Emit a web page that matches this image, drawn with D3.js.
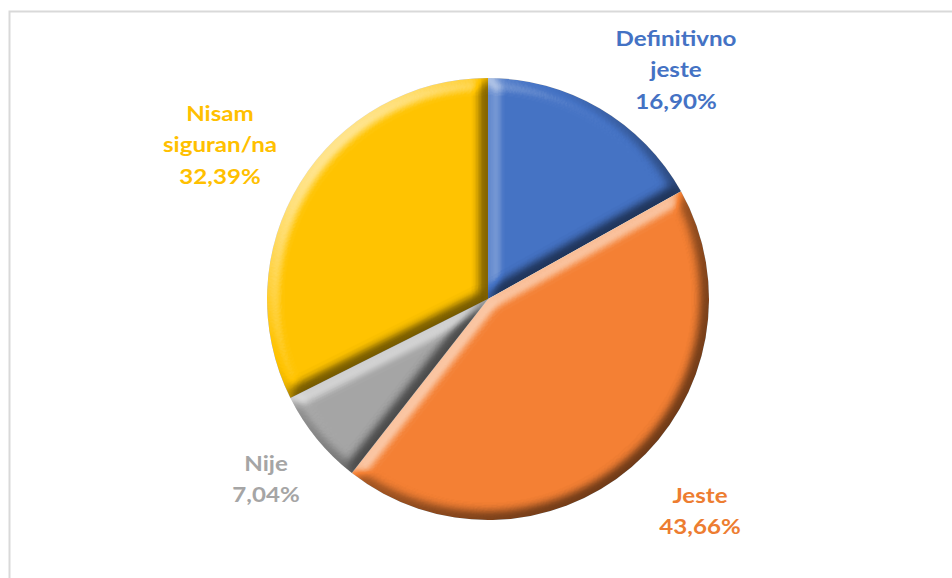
<!DOCTYPE html>
<html>
<head>
<meta charset="utf-8">
<script src="https://cdn.jsdelivr.net/npm/d3@7"></script>
<style>
  html, body { margin: 0; padding: 0; background: #fff; }
  svg { display: block; }
  .lbl { font-family: Lato, "Open Sans", sans-serif; font-weight: 700; }
</style>
</head>
<body>
<svg id="chart" width="952" height="578"></svg>
<script>
// Survey answers, clockwise from 12 o'clock
const categories = ["Definitivno jeste", "Jeste", "Nije", "Nisam siguran/na"];
const shares = [16.90, 43.66, 7.04, 32.39];
const sliceColors = ["#4472C4", "#F47F33", "#A5A5A5", "#FFC300"];
const labelColors = ["#4472C4", "#ED7D31", "#A5A5A5", "#FFC000"];
// label text split into lines (name lines, value line added below)
const labelLines = [["Definitivno", "jeste"], ["Jeste"], ["Nije"], ["Nisam", "siguran/na"]];
// anchor (centre x, first baseline y) of each label block
const labelAnchors = [[676, 46], [700, 503], [266, 471], [220, 121]];

const W = 952, H = 578;
const cx = 488, cy = 299, R = 221;
const lineGap = 31.5;

const svg = d3.select("#chart");

// chart frame
svg.append("rect")
  .attr("x", 9.5).attr("y", 11.5)
  .attr("width", W + 10).attr("height", H + 10)
  .attr("fill", "#fff")
  .attr("stroke", "#d9d9d9").attr("stroke-width", 2);

// bevel (rounded edge lit from the top-left) for each slice
const defs = svg.append("defs");
const f = defs.append("filter").attr("id", "bevel")
  .attr("x", "-5%").attr("y", "-5%").attr("width", "110%").attr("height", "110%")
  .attr("color-interpolation-filters", "sRGB");
f.append("feGaussianBlur").attr("in", "SourceAlpha").attr("stdDeviation", 7).attr("result", "blur");
const dl = f.append("feDiffuseLighting").attr("in", "blur")
  .attr("surfaceScale", 9).attr("diffuseConstant", 1)
  .attr("lighting-color", "#ffffff").attr("result", "light");
dl.append("feDistantLight").attr("azimuth", 225).attr("elevation", 50);
// tone curve: flat face -> 0.5 (neutral), shaded side floors at a deep tint
const ct = f.append("feComponentTransfer").attr("in", "light").attr("result", "shade");
["feFuncR", "feFuncG", "feFuncB"].forEach(fn =>
  ct.append(fn).attr("type", "table")
    .attr("tableValues", "0.22 0.24 0.26 0.29 0.33 0.37 0.42 0.47 0.52 0.64 0.78"));
f.append("feBlend").attr("in", "shade").attr("in2", "SourceGraphic").attr("mode", "hard-light").attr("result", "lit");
f.append("feComposite").attr("in", "lit").attr("in2", "SourceAlpha").attr("operator", "in");

const pie = d3.pie().sort(null).value(d => d);
const arcs = pie(shares);
const arc = d3.arc().innerRadius(0).outerRadius(R);

const g = svg.append("g").attr("transform", `translate(${cx},${cy})`);
g.selectAll("path.slice")
  .data(arcs)
  .join("path")
  .attr("class", "slice")
  .attr("d", arc)
  .attr("fill", (d, i) => sliceColors[i])
  .attr("filter", "url(#bevel)");

// data labels
const fmt = v => v.toFixed(2).replace(".", ",") + "%";
arcs.forEach((a, i) => {
  const lines = labelLines[i].concat([fmt(a.data)]);
  const [ax, ay] = labelAnchors[i];
  const t = svg.append("text")
    .attr("class", "lbl")
    .attr("text-anchor", "middle")
    .attr("fill", labelColors[i])
    .attr("font-size", 21)
    .attr("transform", `translate(${ax},${ay}) scale(1.15,1)`);
  lines.forEach((s, k) => {
    t.append("tspan")
      .attr("x", 0)
      .attr("y", k * lineGap)
      .text(s);
  });
});
</script>
</body>
</html>
